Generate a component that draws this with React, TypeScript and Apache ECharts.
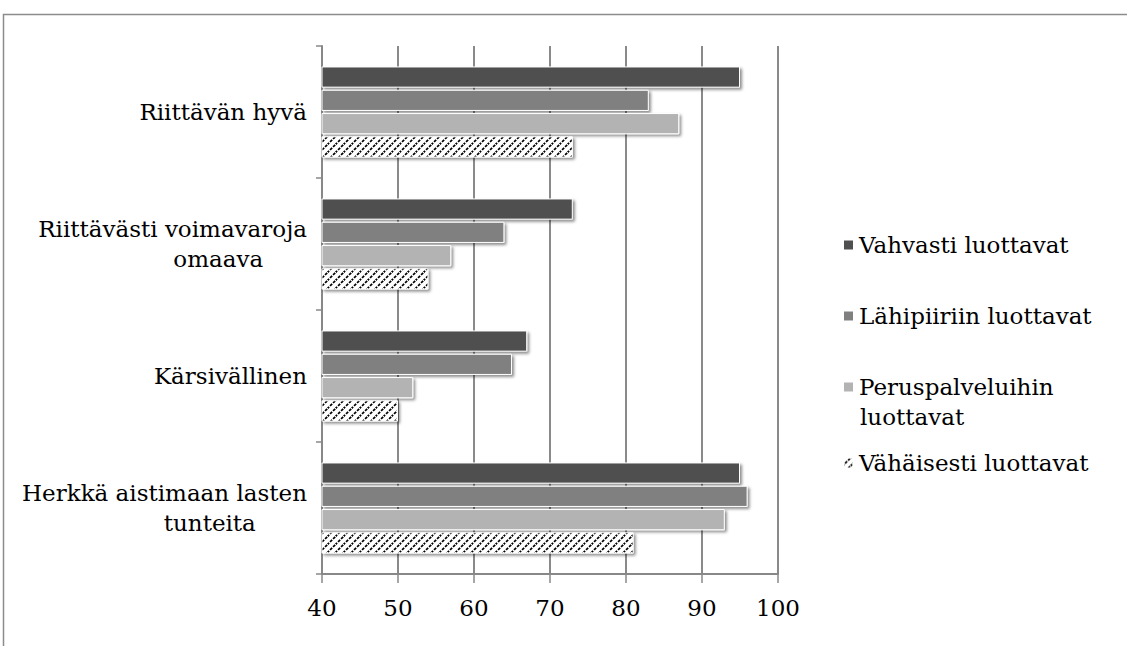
import React, { useEffect, useRef } from "react";
import * as echarts from "echarts";

const categories = [
  "Riittävän hyvä",
  "Riittävästi voimavaroja\nomaava",
  "Kärsivällinen",
  "Herkkä aistimaan lasten\ntunteita",
];
const seriesNames = [
  "Vahvasti luottavat",
  "Lähipiiriin luottavat",
  "Peruspalveluihin luottavat",
  "Vähäisesti luottavat",
];
const vahvasti = [95, 73, 67, 95];
const lahipiiri = [83, 64, 65, 96];
const peruspalvelu = [87, 57, 52, 93];
const vahaisesti = [73, 54, 50, 81];
const xTicks = [40, 50, 60, 70, 80, 90, 100];

const FONT = "DejaVu Serif";
const FS = 23;
const NBSP = "\u00A0";

function makeHatch(): string {
  const svg =
    '<svg xmlns="http://www.w3.org/2000/svg" width="8" height="8" viewBox="0 0 8 8">' +
    '<rect width="8" height="8" fill="#ffffff"/>' +
    '<path d="M-1 9 L9 -1 M-1 1 L1 -1 M7 9 L9 7" stroke="#000000" stroke-width="1.7" stroke-dasharray="3 1.3" fill="none"/>' +
    "</svg>";
  return "data:image/svg+xml;charset=utf-8," + encodeURIComponent(svg);
}

function measure(text: string): number {
  const c = document.createElement("canvas");
  const ctx = c.getContext("2d")!;
  ctx.font = `${FS}px "${FONT}"`;
  return ctx.measureText(text).width;
}

// centre the shorter lines of a right-aligned label block (trailing no-break spaces)
function centerLines(label: string): string {
  const lines = label.split("\n");
  if (lines.length < 2) return label;
  const widths = lines.map(measure);
  const maxW = Math.max(...widths);
  const sp = measure(NBSP) || 7;
  return lines
    .map((l, j) => l + NBSP.repeat(Math.max(0, Math.round((maxW - widths[j]) / 4 / sp))))
    .join("\n");
}

export default function App() {
  const ref = useRef<HTMLDivElement>(null);
  useEffect(() => {
    if (!ref.current) return;
    const chart = echarts.init(ref.current, undefined, { renderer: "svg" });
    const hatch = { image: makeHatch(), repeat: "repeat", imageWidth: 8, imageHeight: 8 } as any;
    const colors = ["#505050", "#808080", "#b3b3b3", hatch];
    const data = [vahvasti, lahipiiri, peruspalvelu, vahaisesti];
    const legendTops = [230, 301, 372, 448];
    const legendLabels = ["Vahvasti luottavat", "Lähipiiriin luottavat", "Peruspalveluihin", "Vähäisesti luottavat"];

    chart.setOption({
      animation: false,
      backgroundColor: "#ffffff",
      grid: { left: 322, right: 349, top: 46, bottom: 72, containLabel: false },
      xAxis: {
        type: "value",
        min: xTicks[0],
        max: xTicks[xTicks.length - 1],
        interval: 10,
        axisLine: { show: true, lineStyle: { color: "#888888", width: 2 } },
        axisTick: { show: true, length: 9, lineStyle: { color: "#888888", width: 1.5 } },
        splitLine: { show: true, lineStyle: { color: "#8a8a8a", width: 2 } },
        axisLabel: { margin: 22, fontFamily: FONT, fontSize: FS, color: "#000000" },
      },
      yAxis: {
        type: "category",
        inverse: true,
        data: categories,
        axisLine: { show: true, lineStyle: { color: "#888888", width: 2 } },
        axisTick: { show: true, length: 6, lineStyle: { color: "#888888", width: 1.5 } },
        axisLabel: {
          margin: 15,
          fontFamily: FONT,
          fontSize: FS,
          lineHeight: 30,
          color: "#000000",
          formatter: (v: string) => centerLines(v),
        },
      },
      legend: seriesNames.map((name, i) => ({
        data: [name],
        orient: "vertical",
        left: 842,
        top: legendTops[i],
        padding: 0,
        itemWidth: 11,
        itemHeight: 11,
        icon: "rect",
        selectedMode: false,
        formatter: () => legendLabels[i],
        textStyle: { fontFamily: FONT, fontSize: FS, lineHeight: 30, color: "#000000" },
      })),
      graphic: [
        {
          type: "rect",
          shape: { x: 3.5, y: 14.5, width: 1300, height: 800 },
          style: { fill: "none", stroke: "#8c8c8c", lineWidth: 1.5 },
          silent: true,
        },
        {
          type: "text",
          left: 860,
          top: 405,
          style: { text: "luottavat", font: `${FS}px "${FONT}"`, fill: "#000000" },
          silent: true,
        },
      ],
      series: seriesNames.map((name, i) => ({
        name,
        type: "bar",
        data: data[i],
        barCategoryGap: "31%",
        barGap: "10%",
        itemStyle: {
          color: colors[i],
          borderColor: "#ffffff",
          borderWidth: 1,
          shadowBlur: 3,
          shadowColor: "rgba(0,0,0,0.45)",
          shadowOffsetX: 2,
          shadowOffsetY: 2,
        },
      })),
    });
    return () => chart.dispose();
  }, []);
  return (
    <div
      ref={ref}
      style={{ position: "fixed", left: 0, top: 0, width: 1127, height: 646, background: "#fff" }}
    />
  );
}
